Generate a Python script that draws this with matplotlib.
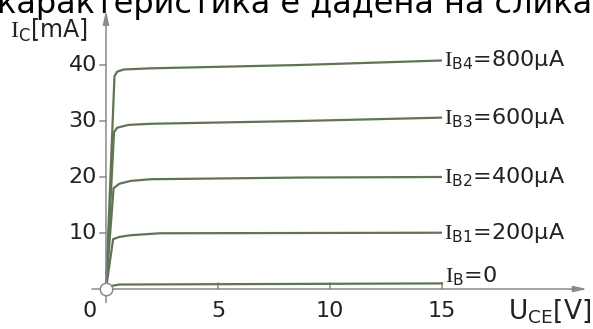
import matplotlib
matplotlib.use("Agg")
import matplotlib.pyplot as plt

# output characteristics I_C(U_CE)
uce_b4 = [0, 0.38, 0.5, 0.8, 2, 8.7, 15]
ic_b4 = [0, 38.0, 38.8, 39.2, 39.4, 40.0, 40.8]
uce_b3 = [0, 0.36, 0.5, 1.0, 2, 8.7, 15]
ic_b3 = [0, 28.0, 28.8, 29.3, 29.5, 30.0, 30.6]
uce_b2 = [0, 0.34, 0.6, 1.1, 2, 8.7, 15]
ic_b2 = [0, 18.0, 18.8, 19.3, 19.6, 19.9, 20.0]
uce_b1 = [0, 0.32, 0.6, 1.1, 2.4, 8.7, 15]
ic_b1 = [0, 8.9, 9.3, 9.6, 9.95, 10.0, 10.05]
uce_b0 = [0, 0.3, 0.6, 15]
ic_b0 = [0, 0.6, 0.8, 1.0]

curve_labels = [r'$\mathrm{I}_{\mathsf{B4}}$=800µA', r'$\mathrm{I}_{\mathsf{B3}}$=600µA',
                r'$\mathrm{I}_{\mathsf{B2}}$=400µA', r'$\mathrm{I}_{\mathsf{B1}}$=200µA']
zero_label = r'$\mathrm{I}_{\mathsf{B}}$=0'
xticks = [5, 10, 15]
yticks = [10, 20, 30, 40]

plt.rcParams['mathtext.fontset'] = 'custom'
plt.rcParams['mathtext.rm'] = 'Liberation Serif'
plt.rcParams['mathtext.sf'] = 'DejaVu Sans'
plt.rcParams['font.family'] = ['DejaVu Sans']

axis_col = '#8a8a8a'
line_col = '#5f7556'
txt_col = '#222222'

fig = plt.figure(figsize=(5.93, 3.29), dpi=100)
ax = fig.add_axes([0, 0, 1, 1])
ax.set_xlim(-4.73, 21.74)
ax.set_ylim(-7.14, 51.6)
for s in ax.spines.values():
    s.set_visible(False)
ax.set_xticks([])
ax.set_yticks([])

# axes with arrows
ax.annotate('', xy=(21.6, 0), xytext=(-0.75, 0),
            arrowprops=dict(arrowstyle='-|>,head_length=0.8,head_width=0.18', color=axis_col, lw=1.1))
ax.annotate('', xy=(0, 50.2), xytext=(0, -2.9),
            arrowprops=dict(arrowstyle='-|>,head_length=0.8,head_width=0.18', color=axis_col, lw=1.1))

# ticks
for x in xticks:
    ax.plot([x, x], [0, 1.05], color=axis_col, lw=1.1)
    ax.text(x, -3.9, str(x), ha='center', va='center', fontsize=16, color=txt_col)
for y in yticks:
    ax.plot([-0.28, 0], [y, y], color=axis_col, lw=1.1)
    ax.text(-0.4, y, str(y), ha='right', va='center', fontsize=16, color=txt_col)
ax.text(-0.75, -3.9, '0', ha='center', va='center', fontsize=16, color=txt_col)

# curves
curves = [(uce_b4, ic_b4), (uce_b3, ic_b3), (uce_b2, ic_b2), (uce_b1, ic_b1)]
for (xs, ys), lab in zip(curves, curve_labels):
    ax.plot(xs, ys, color=line_col, lw=1.6, solid_capstyle='butt')
    ax.text(xs[-1] + 0.1, ys[-1], lab, ha='left', va='center', fontsize=16, color=txt_col)
ax.plot(uce_b0, ic_b0, color=line_col, lw=1.6)
ax.text(15.15, 2.3, zero_label, ha='left', va='center', fontsize=16, color=txt_col)

ax.plot([0], [0], 'o', ms=9, mfc='white', mec=axis_col, mew=1.1, zorder=5)

# axis labels
ax.text(-4.3, 46.1, r'$\mathrm{I}_{\mathsf{C}}$[mA]', ha='left', va='center', fontsize=17, color=txt_col)
ax.text(17.95, -3.9, r'U$_{\mathsf{CE}}$[V]', ha='left', va='center', fontsize=19, color=txt_col)

# clipped caption line from the page above
fig.text(-0.005, 1 - 13 / 329, 'карактеристика е дадена на слика', ha='left', va='baseline',
         fontsize=23, color='black')

fig.savefig('out.png', dpi=100)
